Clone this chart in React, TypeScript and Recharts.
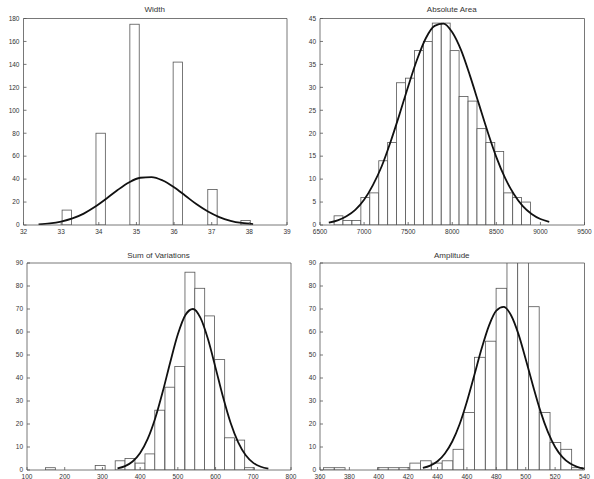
import React from 'react'
import { ComposedChart, Bar, Line, XAxis, YAxis } from 'recharts'

// Width
const widthBins = [33.15, 34.05, 34.95, 36.1, 37.02, 37.9]
const widthCounts = [13, 80, 175, 142, 31, 4]
const widthFitX = [32.4, 32.7, 33.0, 33.3, 33.6, 33.9, 34.2, 34.5, 34.8, 35.1, 35.4, 35.7, 36.0, 36.3, 36.6, 36.9, 37.2, 37.5, 37.8, 38.1]
const widthFitY = [0.6, 1.4, 3.0, 5.7, 9.9, 15.8, 22.9, 30.5, 37.1, 41.2, 41.8, 38.8, 32.9, 25.5, 18.0, 11.7, 6.9, 3.7, 1.8, 0.8]
const widthXTicks = [32, 33, 34, 35, 36, 37, 38, 39]
const widthYTicks = [0, 20, 40, 60, 80, 100, 120, 140, 160, 180]

// Absolute Area
const areaBins = [6710, 6811, 6913, 7014, 7115, 7217, 7318, 7419, 7520, 7622, 7723, 7824, 7926, 8027, 8128, 8230, 8331, 8432, 8533, 8635, 8736, 8837]
const areaCounts = [2, 1, 1, 6, 7, 14, 18, 31, 32, 38, 40, 44, 44, 38, 28, 27, 21, 18, 16, 7, 6, 5]
const areaFitX = [6600, 6700, 6800, 6900, 7000, 7100, 7200, 7300, 7400, 7500, 7600, 7700, 7800, 7900, 8000, 8100, 8200, 8300, 8400, 8500, 8600, 8700, 8800, 8900, 9000, 9100]
const areaFitY = [0.5, 1.0, 1.9, 3.3, 5.5, 8.7, 12.8, 18.1, 24.0, 30.2, 36.0, 40.7, 43.4, 43.9, 42.0, 38.1, 32.6, 26.5, 20.4, 14.8, 10.2, 6.7, 4.1, 2.4, 1.3, 0.7]
const areaXTicks = [6500, 7000, 7500, 8000, 8500, 9000, 9500]
const areaYTicks = [0, 5, 10, 15, 20, 25, 30, 35, 40, 45]

// Sum of Variations
const sumBins = [162, 294, 347, 373, 400, 426, 452, 479, 505, 532, 558, 584, 611, 637, 664, 690]
const sumCounts = [1, 2, 4, 5, 3, 7, 26, 36, 45, 86, 79, 67, 48, 14, 13, 1]
const sumFitX = [340, 360, 380, 400, 420, 440, 460, 480, 500, 520, 540, 560, 580, 600, 620, 640, 660, 680, 700, 720, 740]
const sumFitY = [0.7, 1.7, 3.7, 7.4, 13.5, 22.5, 34.1, 47.0, 59.0, 67.4, 70.0, 66.1, 56.8, 44.4, 31.6, 20.4, 12.0, 6.4, 3.1, 1.4, 0.6]
const sumXTicks = [100, 200, 300, 400, 500, 600, 700, 800]
const sumYTicks = [0, 10, 20, 30, 40, 50, 60, 70, 80, 90]

// Amplitude
const ampBins = [366.0, 373.4, 402.8, 410.1, 417.5, 424.8, 432.0, 439.5, 446.8, 454.2, 461.5, 468.8, 476.2, 483.5, 490.9, 498.2, 505.5, 512.9, 520.2, 527.6, 534.9]
const ampCounts = [1, 1, 1, 1, 1, 3, 4, 3, 4, 9, 25, 49, 56, 79, 98, 95, 71, 25, 12, 9, 1]
const ampFitX = [430, 435, 440, 445, 450, 455, 460, 465, 470, 475, 480, 485, 490, 495, 500, 505, 510, 515, 520, 525, 530, 535, 540]
const ampFitY = [0.9, 1.9, 3.8, 7.2, 12.4, 19.9, 29.8, 41.2, 52.8, 62.8, 69.3, 70.9, 67.3, 59.2, 48.2, 36.5, 25.6, 16.7, 10.0, 5.6, 2.9, 1.4, 0.6]
const ampXTicks = [360, 380, 400, 420, 440, 460, 480, 500, 520, 540]
const ampYTicks = [0, 10, 20, 30, 40, 50, 60, 70, 80, 90]

const AXIS = '#555'
const TEXT = '#333'
const FONT = '"Liberation Sans", Arial, sans-serif'
const Y_W = 20

const BottomTick = ({ x, y, payload }: any) => (
  <g>
    <line x1={x} x2={x} y1={y - 3} y2={y - 6} stroke={AXIS} strokeWidth={0.8} />
    <text x={x} y={y + 6} textAnchor="middle" fontSize={6.5} fontFamily={FONT} fill={TEXT}>
      {payload.value}
    </text>
  </g>
)

const LeftTick = ({ x, y, payload }: any) => (
  <g>
    <line x1={x + 3} x2={x + 6} y1={y} y2={y} stroke={AXIS} strokeWidth={0.8} />
    <text x={x - 1} y={y + 2.3} textAnchor="end" fontSize={6.5} fontFamily={FONT} fill={TEXT}>
      {payload.value}
    </text>
  </g>
)

// histogram bar: keep the library's bar centre, use the real bin width
const HistBar = ({ x, y, width, height, binPx }: any) => {
  if (!height || height <= 0) return null
  const cx = x + width / 2
  return (
    <rect x={cx - binPx / 2} y={y} width={binPx} height={height} fill="#fff" stroke="#555" strokeWidth={0.8} />
  )
}

type PanelProps = {
  title: string
  left: number
  top: number
  width: number
  height: number
  xAxisH: number
  titleTop: number
  margin: { top: number; right: number; bottom: number; left: number }
  bins: number[]
  counts: number[]
  fitX: number[]
  fitY: number[]
  xTicks: number[]
  yTicks: number[]
  binWidth: number
}

const Panel = (p: PanelProps) => {
  const bars = p.bins.map((x, i) => ({ x, n: p.counts[i] }))
  const fit = p.fitX.map((x, i) => ({ x, y: p.fitY[i] }))
  const xDomain = [p.xTicks[0], p.xTicks[p.xTicks.length - 1]]
  const yDomain = [0, p.yTicks[p.yTicks.length - 1]]
  const plotLeft = p.margin.left + Y_W
  const plotW = p.width - plotLeft - p.margin.right - 1
  const binPx = (p.binWidth * plotW) / (xDomain[1] - xDomain[0])
  const line = { stroke: AXIS, strokeWidth: 0.8 }

  return (
    <>
      <div
        style={{
          position: 'absolute',
          left: p.left + plotLeft + plotW / 2,
          top: p.titleTop,
          transform: 'translateX(-50%)',
          fontSize: 8,
          lineHeight: '10px',
          whiteSpace: 'nowrap',
          color: TEXT,
          fontFamily: FONT,
        }}
      >
        {p.title}
      </div>
      <div style={{ position: 'absolute', left: p.left, top: p.top }}>
        <ComposedChart width={p.width} height={p.height} data={bars} margin={p.margin}>
          <XAxis
            dataKey="x"
            type="number"
            domain={xDomain}
            ticks={p.xTicks}
            interval={0}
            allowDataOverflow
            height={p.xAxisH}
            axisLine={line}
            tickLine={false}
            tickSize={0}
            tickMargin={3}
            tick={(t: any) => <BottomTick {...t} />}
          />
          <XAxis
            xAxisId="top"
            orientation="top"
            dataKey="x"
            type="number"
            domain={xDomain}
            ticks={p.xTicks}
            interval={0}
            allowDataOverflow
            height={1}
            mirror
            tick={false}
            tickSize={3}
            axisLine={line}
            tickLine={line}
          />
          <YAxis
            type="number"
            domain={yDomain}
            ticks={p.yTicks}
            interval={0}
            allowDataOverflow
            width={Y_W}
            axisLine={line}
            tickLine={false}
            tickSize={0}
            tickMargin={3}
            tick={(t: any) => <LeftTick {...t} />}
          />
          <YAxis
            yAxisId="right"
            orientation="right"
            type="number"
            domain={yDomain}
            ticks={p.yTicks}
            interval={0}
            allowDataOverflow
            width={1}
            mirror
            tick={false}
            tickSize={3}
            axisLine={line}
            tickLine={line}
          />
          <Bar
            dataKey="n"
            shape={(s: any) => <HistBar {...s} binPx={binPx} />}
            isAnimationActive={false}
          />
          <Line
            data={fit}
            dataKey="y"
            type="monotone"
            stroke="#111"
            strokeWidth={1.8}
            dot={false}
            isAnimationActive={false}
          />
        </ComposedChart>
      </div>
    </>
  )
}

export default function App() {
  return (
    <div style={{ position: 'absolute', left: 0, top: 0, width: 594, height: 479, background: '#fff' }}>
      <Panel
        title="Width"
        left={0}
        top={0}
        width={297}
        height={240}
        xAxisH={12}
        titleTop={5}
        margin={{ top: 18.5, right: 10, bottom: 3, left: 3.5 }}
        bins={widthBins}
        counts={widthCounts}
        fitX={widthFitX}
        fitY={widthFitY}
        xTicks={widthXTicks}
        yTicks={widthYTicks}
        binWidth={0.25}
      />
      <Panel
        title="Absolute Area"
        left={297}
        top={0}
        width={297}
        height={240}
        xAxisH={12}
        titleTop={5}
        margin={{ top: 18.5, right: 9.5, bottom: 3, left: 3 }}
        bins={areaBins}
        counts={areaCounts}
        fitX={areaFitX}
        fitY={areaFitY}
        xTicks={areaXTicks}
        yTicks={areaYTicks}
        binWidth={101.3}
      />
      <Panel
        title="Sum of Variations"
        left={0}
        top={240}
        width={297}
        height={239}
        xAxisH={9}
        titleTop={250.5}
        margin={{ top: 23, right: 6, bottom: 0, left: 7 }}
        bins={sumBins}
        counts={sumCounts}
        fitX={sumFitX}
        fitY={sumFitY}
        xTicks={sumXTicks}
        yTicks={sumYTicks}
        binWidth={26.4}
      />
      <Panel
        title="Amplitude"
        left={297}
        top={240}
        width={297}
        height={239}
        xAxisH={9}
        titleTop={250.5}
        margin={{ top: 23, right: 9.5, bottom: 0, left: 3 }}
        bins={ampBins}
        counts={ampCounts}
        fitX={ampFitX}
        fitY={ampFitY}
        xTicks={ampXTicks}
        yTicks={ampYTicks}
        binWidth={7.35}
      />
    </div>
  )
}
